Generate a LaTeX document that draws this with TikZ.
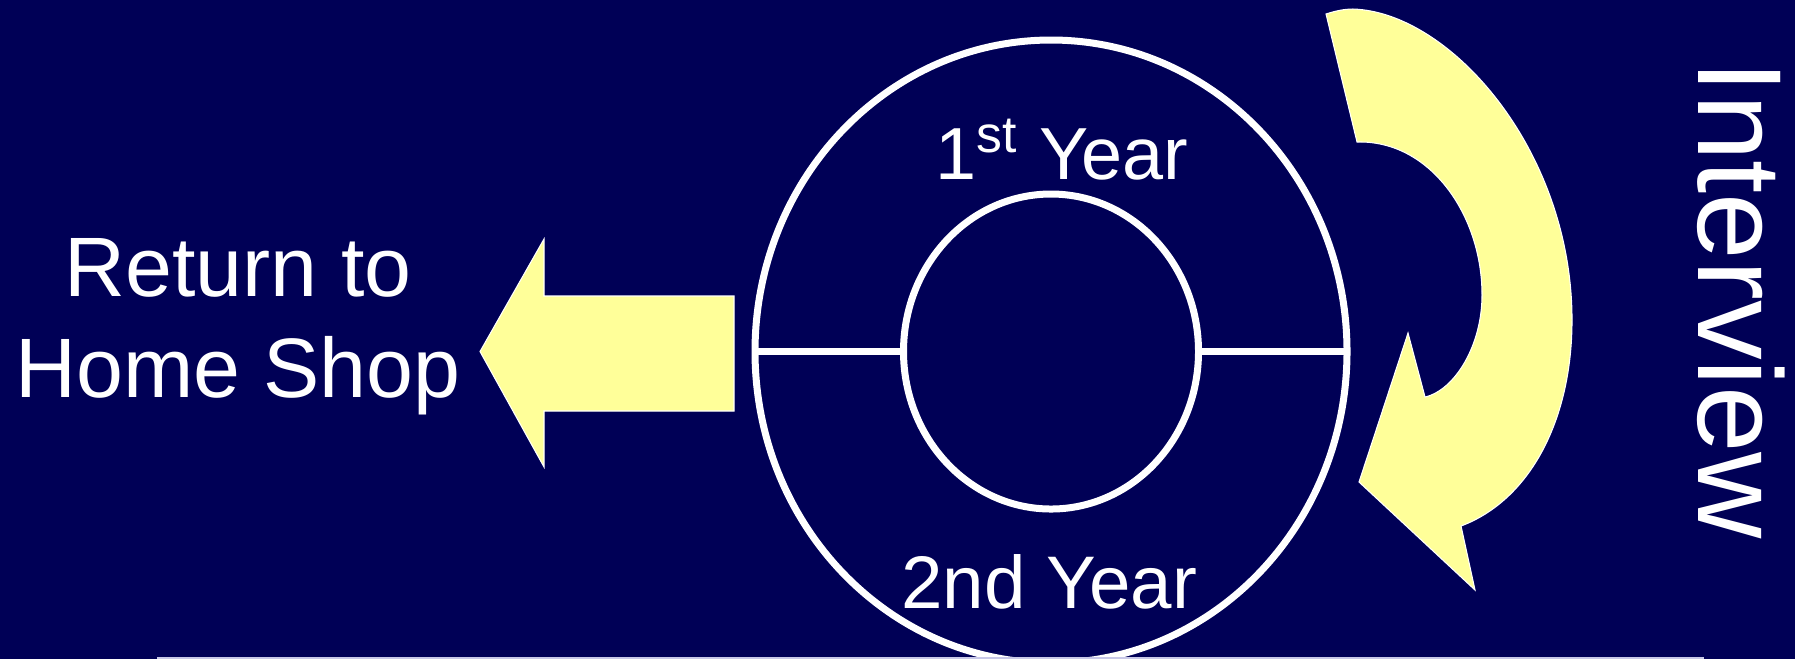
\documentclass[tikz,border=0pt]{standalone}
\usepackage{fontspec}
\setmainfont{Liberation Sans}
\usepackage{tikz}
\usetikzlibrary{shapes.geometric}
\definecolor{slidebg}{RGB}{0,0,86}
\definecolor{arrowyellow}{RGB}{255,255,153}
\definecolor{rulelav}{RGB}{200,200,232}
\tikzset{
  ringedge/.style={
    ellipse, draw=white, line width=0.7mm, inner sep=0pt, outer sep=0pt
  },
  ringsplit/.style={draw=white,line width=0.7mm},
  blockarrow/.style={fill=arrowyellow,draw=white,line width=0.3pt,line join=miter},
  yeartext/.style={text=white,anchor=base,inner sep=0pt},
  sidetext/.style={text=white,anchor=base,inner sep=0pt,align=center},
  baserule/.style={draw=rulelav,line width=0.2mm}
}

\begin{document}
\begin{tikzpicture}[x=0.1mm,y=-0.1mm]
  \useasboundingbox (0,0) rectangle (1795,659);
  \fill[slidebg] (0,0) rectangle (1795,659);
  % the two-year ring
  \node[ringedge,minimum width=59.2mm,minimum height=62.3mm] (outer) at (1051,351.5) {};
  \node[ringedge,minimum width=29.5mm,minimum height=31.5mm] (inner) at (1051,351.5) {};
  \draw[ringsplit] (outer.west) -- (inner.west);
  \draw[ringsplit] (inner.east) -- (outer.east);
  \node[yeartext,font=\fontsize{21}{25}\selectfont] (first) at (1062,179) {1\textsuperscript{st} Year};
  \node[yeartext,font=\fontsize{21.2}{25}\selectfont] (second) at (1049,608) {2nd Year};
  % way out to the left
  \draw[blockarrow] (480,351.5) -- (544,239) -- (544,296) -- (734,296)
    -- (734,411) -- (544,411) -- (544,467) -- cycle;
  \node[sidetext,font=\fontsize{24}{28.7}\selectfont] (home) at (238,397) {Return to\\Home Shop};
  % turn-around arrow on the right
  \draw[blockarrow] (1326,14) .. controls (1335,11) and (1344,9) .. (1353,9)
    .. controls (1450,12) and (1572,150) .. (1572,320)
    .. controls (1572,420) and (1530,500) .. (1461,526)
    -- (1475,590) -- (1359,482) -- (1408,333) -- (1425,397)
    .. controls (1455,390) and (1482,345) .. (1482,295)
    .. controls (1482,215) and (1430,140) .. (1357,142) -- cycle;
  \node[yeartext,rotate=-90,font=\fontsize{34}{40}\selectfont] (interview) at (1698,300) {Interview};
  \draw[baserule] (157,657.8) -- (1704,657.8);
\end{tikzpicture}
\end{document}
